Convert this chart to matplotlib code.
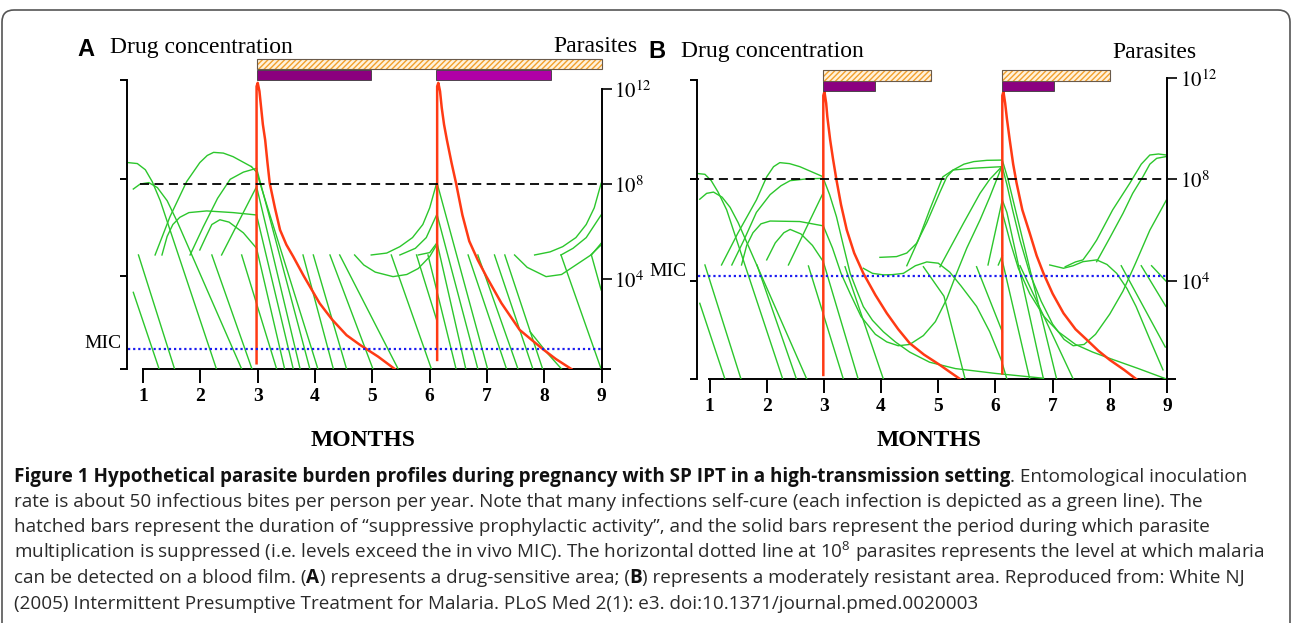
import matplotlib
matplotlib.use("Agg")
import matplotlib.pyplot as plt
from matplotlib.patches import Rectangle, FancyBboxPatch

W, H = 1293, 623
SERIF = "Liberation Serif"
CAP = "Open Sans"
GREEN = "#2cc62c"
RED = "#ff3a14"

plt.rcParams["mathtext.fontset"] = "stix"
plt.rcParams["hatch.linewidth"] = 1.0

months = [1, 2, 3, 4, 5, 6, 7, 8, 9]

# ---------------- panel A: drug-sensitive area (x = months, y = log10 parasites)
a_xlim = (0.72, 8.99)
a_ylim = (0.23, 12.37)
a_left_ticks = [0.23, 4.15, 8.21, 12.37]
a_right_ticks = [4, 8, 12]
a_detect = 8.0
a_mic = 1.07
a_hatch = [(2.98, 9.0)]
a_solid = [(2.98, 4.97), (6.11, 8.11)]
a_solid_colors = ["#8b007e", "#b000a6"]

a_red = [
    [(2.98, 0.47), (2.98, 12.1), (3.0, 12.25), (3.03, 11.9), (3.06, 11.2), (3.09, 10.5), (3.13, 9.85),
     (3.17, 8.9), (3.21, 8.03), (3.3, 7.0), (3.39, 6.07), (3.5, 5.45), (3.62, 4.95), (3.8, 4.15),
     (4.08, 2.99), (4.3, 2.3), (4.55, 1.65), (4.78, 1.25), (5.1, 0.75), (5.39, 0.23)],
    [(6.13, 0.61), (6.13, 12.1), (6.15, 12.25), (6.18, 11.9), (6.21, 11.2), (6.25, 10.5), (6.3, 9.85),
     (6.38, 8.9), (6.46, 8.03), (6.57, 6.7), (6.69, 5.6), (6.84, 4.8), (6.99, 4.11), (7.25, 3.0),
     (7.57, 1.87), (7.97, 1.07), (8.2, 0.65), (8.47, 0.23)],
]

a_green = [
    [(0.74, 8.90), (0.9, 8.86), (1.04, 8.6), (1.16, 8.1), (1.3, 7.3), (2.28, 0.23)],
    [(0.83, 7.79), (0.95, 8.0), (1.1, 8.06), (1.25, 7.85), (1.42, 7.3), (1.6, 6.4), (2.72, 0.23)],
    [(0.83, 3.45), (1.28, 0.23)],
    [(0.92, 5.02), (1.55, 0.23)],
    [(1.21, 5.02), (1.47, 6.63), (1.76, 8.10), (1.99, 8.90), (2.12, 9.2), (2.23, 9.33), (2.4, 9.3),
     (2.57, 9.15), (2.89, 8.73)],
    [(1.33, 5.02), (1.42, 5.8), (1.52, 6.3), (1.64, 6.6), (1.8, 6.8), (2.11, 6.87), (2.57, 6.80), (2.98, 6.70)],
    [(1.82, 5.02), (2.05, 6.2), (2.3, 7.4), (2.52, 8.2), (2.75, 8.5), (2.98, 8.66)],
    [(1.99, 5.23), (2.1, 5.8), (2.2, 6.3), (2.34, 6.5), (2.5, 6.4), (2.75, 5.95), (2.98, 5.30)],
    [(2.37, 5.02), (2.98, 7.89)],
    [(2.20, 5.02), (2.90, 0.23)],
    [(2.72, 5.02), (3.33, 0.23)],
    [(2.98, 5.30), (3.47, 0.23)],
    [(2.98, 6.70), (3.62, 0.23)],
    [(2.98, 7.89), (3.74, 0.23)],
    [(2.98, 8.66), (3.91, 0.23)],
    [(2.89, 8.73), (2.98, 8.5), (4.05, 0.23)],
    [(3.79, 5.02), (4.32, 0.23)],
    [(3.97, 5.02), (4.55, 0.23)],
    [(4.26, 5.02), (5.01, 0.23)],
    [(4.43, 5.02), (5.45, 0.23)],
    [(4.69, 5.02), (4.85, 4.6), (5.05, 4.3), (5.36, 4.11), (5.6, 4.2), (5.8, 4.45), (6.0, 4.95), (6.12, 5.44)],
    [(4.98, 5.02), (5.25, 5.1), (5.48, 5.37), (5.7, 5.75), (5.88, 6.3), (6.0, 7.0), (6.12, 8.03)],
    [(5.48, 5.02), (5.75, 5.3), (5.94, 5.75), (6.12, 6.70)],
    [(5.80, 5.02), (6.0, 5.12), (6.12, 5.51)],
    [(5.33, 5.02), (6.03, 0.23)],
    [(5.77, 5.02), (6.13, 2.22)],
    [(5.97, 5.02), (6.46, 0.23)],
    [(6.13, 5.51), (6.63, 0.23)],
    [(6.13, 6.70), (6.84, 0.23)],
    [(6.13, 8.03), (7.01, 0.23)],
    [(6.67, 5.02), (7.34, 0.23)],
    [(6.84, 5.02), (7.54, 0.23)],
    [(7.13, 5.02), (7.80, 0.23)],
    [(7.31, 5.02), (7.97, 0.23)],
    [(7.75, 1.8), (8.05, 0.9), (8.3, 0.23)],
    [(7.48, 5.02), (7.7, 4.5), (8.03, 4.11), (8.3, 4.2), (8.55, 4.6), (8.8, 5.0), (8.99, 5.44)],
    [(7.83, 5.02), (8.1, 5.15), (8.32, 5.37), (8.55, 5.75), (8.73, 6.3), (8.87, 7.0), (8.99, 8.03)],
    [(8.29, 5.02), (8.5, 5.3), (8.73, 5.75), (8.99, 6.70)],
    [(8.82, 5.02), (8.99, 5.51)],
    [(8.29, 5.02), (8.99, 0.23)],
    [(8.82, 5.02), (8.99, 3.55)],
]

# ---------------- panel B: moderately resistant area
b_xlim = (0.776, 9.0)
b_ylim = (0.14, 12.0)
b_left_ticks = [0.14, 4.0, 8.0, 11.91]
b_right_ticks = [4, 8, 12]
b_detect = 8.0
b_mic = 4.21
b_hatch = [(2.98, 4.87), (6.12, 8.01)]
b_solid = [(2.98, 3.89), (6.12, 7.03)]
b_solid_colors = ["#8b0080", "#8b0080"]

b_red = [
    [(2.99, 0.30), (2.99, 11.3), (3.01, 11.45), (3.04, 11.0), (3.06, 10.47), (3.11, 9.55), (3.16, 8.8),
     (3.22, 7.98), (3.3, 7.0), (3.4, 6.01), (3.53, 5.1), (3.69, 4.30), (3.9, 3.45), (4.10, 2.73),
     (4.3, 2.1), (4.50, 1.55), (4.75, 1.1), (5.03, 0.69), (5.2, 0.42), (5.38, 0.14)],
    [(6.12, 0.36), (6.12, 11.3), (6.14, 11.45), (6.17, 11.0), (6.2, 10.4), (6.25, 9.55), (6.31, 8.6),
     (6.37, 7.85), (6.47, 6.8), (6.6, 5.88), (6.72, 5.0), (6.84, 4.3), (7.0, 3.5), (7.19, 2.73),
     (7.4, 2.1), (7.6, 1.68), (7.8, 1.25), (8.0, 0.89), (8.25, 0.5), (8.46, 0.14)],
]

b_green = [
    [(0.75, 8.24), (0.92, 8.20), (1.03, 7.95), (1.15, 7.5), (1.3, 6.8), (2.28, 0.14)],
    [(0.83, 7.22), (0.95, 7.45), (1.07, 7.5), (1.22, 7.3), (1.36, 6.9), (1.5, 6.3), (2.70, 0.14)],
    [(0.83, 3.12), (1.27, 0.14)],
    [(0.92, 4.63), (1.55, 0.14)],
    [(1.83, 4.63), (2.52, 0.14)],
    [(2.73, 4.59), (3.34, 0.14)],
    [(1.21, 4.63), (1.5, 5.9), (1.82, 7.19), (2.0, 8.1), (2.12, 8.5), (2.23, 8.66), (2.4, 8.62),
     (2.58, 8.5), (2.96, 8.13)],
    [(1.39, 4.63), (1.6, 5.6), (1.82, 6.7), (2.06, 7.4), (2.25, 7.75), (2.41, 7.95), (2.7, 8.02), (2.99, 8.04)],
    [(1.56, 4.63), (1.65, 5.4), (1.76, 5.9), (1.9, 6.25), (2.06, 6.36), (2.58, 6.34), (2.99, 6.17)],
    [(2.0, 4.83), (2.15, 5.5), (2.3, 5.9), (2.41, 6.03), (2.6, 5.85), (2.8, 5.4), (2.99, 4.76)],
    [(2.38, 4.63), (2.99, 7.48)],
    [(2.99, 4.76), (3.60, 0.14)],
    [(3.37, 4.56), (4.04, 0.14)],
    [(2.99, 6.17), (3.15, 5.3), (3.3, 4.3), (3.46, 3.5), (3.65, 2.6), (3.9, 1.9), (4.1, 1.6), (4.3, 1.45),
     (4.5, 1.5), (4.74, 1.85), (4.95, 2.4), (5.15, 3.3), (5.32, 4.3), (5.5, 5.3), (5.73, 6.4), (5.9, 7.3),
     (6.11, 8.5)],
    [(2.99, 8.04), (3.1, 7.4), (3.22, 6.53), (3.34, 5.4), (3.46, 4.3), (3.58, 3.6), (3.69, 2.99),
     (3.85, 2.45), (4.04, 2.0), (4.25, 1.6), (4.5, 1.2), (4.85, 0.8), (5.3, 0.55), (6.0, 0.36), (6.84, 0.17)],
    [(3.69, 4.5), (3.85, 4.3), (4.04, 4.24), (4.2, 4.25), (4.39, 4.3), (4.6, 4.6), (4.8, 4.75), (5.0, 4.7),
     (5.2, 4.35), (5.4, 3.8), (5.67, 3.0), (5.9, 2.0), (6.1, 0.9), (6.2, 0.14)],
    [(3.98, 4.93), (4.27, 4.96), (4.45, 5.1), (4.62, 5.48), (4.8, 6.3), (5.03, 7.5), (5.15, 8.1), (5.26, 8.37),
     (5.45, 8.6), (5.62, 8.7), (5.85, 8.75), (6.11, 8.76)],
    [(4.45, 4.6), (4.65, 5.6), (4.85, 6.8), (5.08, 8.1), (5.26, 8.37), (5.61, 8.44), (6.11, 8.5)],
    [(5.03, 4.56), (5.44, 6.27), (5.73, 7.45), (5.9, 8.0), (6.11, 8.5)],
    [(4.74, 4.56), (5.1, 3.4), (5.47, 0.14)],
    [(5.87, 4.63), (6.12, 7.19)],
    [(6.05, 4.63), (6.12, 5.0)],
    [(5.67, 4.56), (6.12, 2.0)],
    [(6.12, 8.5), (6.2, 7.8), (6.3, 6.8), (6.43, 5.6), (6.6, 4.3), (6.8, 3.2), (7.0, 2.3), (7.2, 1.7),
     (7.36, 1.45), (7.55, 1.5), (7.75, 1.9), (8.0, 2.7), (8.23, 3.6), (8.45, 4.7), (8.7, 6.0), (8.99, 7.19)],
    [(6.12, 6.7), (6.25, 5.6), (6.4, 4.5), (6.6, 3.5), (6.85, 2.6), (7.1, 2.0), (7.4, 1.5), (7.7, 1.2),
     (8.0, 0.95), (8.5, 0.55), (8.99, 0.14)],
    [(6.12, 4.8), (6.6, 0.14)],
    [(6.12, 7.19), (6.2, 6.7), (6.84, 0.14)],
    [(6.12, 8.76), (6.22, 8.0), (7.07, 0.14)],
    [(6.43, 4.6), (7.36, 0.14)],
    [(6.95, 4.63), (7.19, 4.5), (7.36, 4.6), (7.53, 4.76), (7.77, 4.83), (7.95, 4.65), (8.12, 4.3),
     (8.3, 3.7), (8.46, 2.99), (8.7, 1.7), (8.93, 0.5)],
    [(7.22, 4.56), (7.4, 4.75), (7.53, 4.83), (7.65, 5.2), (7.77, 5.61), (8.05, 6.8), (8.35, 7.85),
     (8.55, 8.6), (8.7, 8.96), (8.85, 9.0), (8.99, 8.96)],
    [(7.77, 4.76), (8.0, 5.7), (8.23, 6.66), (8.4, 7.45), (8.58, 8.11), (8.7, 8.6), (8.82, 8.83), (8.99, 8.90)],
    [(8.2, 4.6), (8.97, 1.4)],
    [(8.55, 4.6), (8.98, 3.0)],
    [(8.73, 4.6), (8.98, 4.0)],
]

caption_lines = [
    [("Figure 1 Hypothetical parasite burden profiles during pregnancy with SP IPT in a high-transmission setting", "bold"),
     (". Entomological inoculation", "normal")],
    [("rate is about 50 infectious bites per person per year. Note that many infections self-cure "
      "(each infection is depicted as a green line). The", "normal")],
    [("hatched bars represent the duration of \u201csuppressive prophylactic activity\u201d, and the solid "
      "bars represent the period during which parasite", "normal")],
    [("multiplication is suppressed (i.e. levels exceed the in vivo MIC). The horizontal dotted line at "
      "10$^{\\mathregular{8}}$ parasites represents the level at which malaria", "normal")],
    [("can be detected on a blood film. (", "normal"), ("A", "bold"),
     (") represents a drug-sensitive area; (", "normal"), ("B", "bold"),
     (") represents a moderately resistant area. Reproduced from: White NJ", "normal")],
    [("(2005) Intermittent Presumptive Treatment for Malaria. PLoS Med 2(1): e3. doi:10.1371/journal.pmed.0020003",
      "normal")],
]
caption_baselines = [482, 507, 532, 558, 583, 609]


def fx(px):
    return px / W


def fy(py):
    return 1 - py / H


fig = plt.figure(figsize=(W / 100, H / 100), dpi=100)
fig.patch.set_facecolor("white")

box = FancyBboxPatch((0.14, -0.4), 12.64, 6.41, boxstyle="round,pad=0.12",
                     transform=fig.dpi_scale_trans, fill=False, ec="#555555", lw=1.2)
fig.add_artist(box)


def draw_panel(ax, xlim, ylim, left_ticks, right_ticks, detect, mic, dash_x0,
               green, red, hatch, solid, solid_colors, hatch_y, solid_y):
    ax.set_xlim(xlim)
    ax.set_ylim(ylim)
    ax.patch.set_alpha(0)
    for s in ("top", "bottom", "right"):
        ax.spines[s].set_visible(False)
    ax.spines["left"].set_linewidth(1.4)
    ax.spines["left"].set_bounds(ylim[0], left_ticks[-1])
    ax.set_yticks(left_ticks)
    ax.set_yticklabels([])
    ax.tick_params(axis="y", direction="out", length=5, width=1.4)
    ax.set_xticks(months)
    ax.set_xticklabels([str(m) for m in months], fontfamily=SERIF, fontweight="bold", fontsize=14)
    ax.tick_params(axis="x", direction="out", length=10, width=1.4, pad=4)
    ax.plot([0.98, 9.16], [ylim[0], ylim[0]], color="k", lw=1.4, clip_on=False, solid_capstyle="butt")

    axr = ax.twinx()
    axr.set_ylim(ylim)
    for s in ("top", "bottom", "left"):
        axr.spines[s].set_visible(False)
    axr.spines["right"].set_bounds(ylim[0], 12)
    axr.spines["right"].set_linewidth(1.4)
    axr.set_yticks(right_ticks)
    axr.set_yticklabels([f"$10^{{{t}}}$" for t in right_ticks], fontsize=15)
    axr.tick_params(axis="y", direction="out", length=7, width=1.2, pad=2)

    for line in green:
        xs, ys = zip(*line)
        ax.plot(xs, ys, color=GREEN, lw=1.0, solid_joinstyle="round", zorder=2)
    for line in red:
        xs, ys = zip(*line)
        ax.plot(xs, ys, color=RED, lw=1.8, solid_joinstyle="round", zorder=3)

    ax.plot([dash_x0, xlim[1]], [detect, detect], color="k", lw=1.3, ls=(0, (5, 3)), clip_on=False, zorder=4)
    ax.plot([xlim[0] + 0.02, xlim[1]], [mic, mic], color="#1c1cf0", lw=1.6, ls=(0, (1, 1.3)),
            clip_on=False, zorder=4)

    for x0, x1 in hatch:
        ax.add_patch(Rectangle((x0, hatch_y[0]), x1 - x0, hatch_y[1] - hatch_y[0], facecolor="#fff2dc",
                               edgecolor="#f2a02c", hatch="//////", lw=0, clip_on=False, zorder=5))
        ax.add_patch(Rectangle((x0, hatch_y[0]), x1 - x0, hatch_y[1] - hatch_y[0], fill=False,
                               edgecolor="#6a5a4a", lw=0.8, clip_on=False, zorder=6))
    for (x0, x1), c in zip(solid, solid_colors):
        ax.add_patch(Rectangle((x0, solid_y[0]), x1 - x0, solid_y[1] - solid_y[0], facecolor=c,
                               edgecolor="#3a3a3a", lw=0.6, clip_on=False, zorder=5))


axA = fig.add_axes([fx(127), fy(369), (601.7 - 127) / W, (369 - 80) / H])
draw_panel(axA, a_xlim, a_ylim, a_left_ticks, a_right_ticks, a_detect, a_mic, 0.95,
           a_green, a_red, a_hatch, a_solid, a_solid_colors, (12.83, 13.25), (12.37, 12.79))

axB = fig.add_axes([fx(696.7), fy(379), (1167 - 696.7) / W, (379 - 77.8) / H])
draw_panel(axB, b_xlim, b_ylim, b_left_ticks, b_right_ticks, b_detect, b_mic, 0.66,
           b_green, b_red, b_hatch, b_solid, b_solid_colors, (11.87, 12.31), (11.48, 11.87))

# panel headings
for px, py, letter in [(77, 49, "A"), (648, 52, "B")]:
    fig.text(fx(px), fy(py), letter, fontfamily="Liberation Sans", fontweight="bold", fontsize=17, va="center")
fig.text(fx(110), fy(47), "Drug concentration", fontfamily=SERIF, fontsize=17, va="center")
fig.text(fx(681), fy(52), "Drug concentration", fontfamily=SERIF, fontsize=17, va="center")
fig.text(fx(637), fy(47), "Parasites", fontfamily=SERIF, fontsize=17, va="center", ha="right")
fig.text(fx(1196), fy(52), "Parasites", fontfamily=SERIF, fontsize=17, va="center", ha="right")
fig.text(fx(122), fy(344), "MIC", fontfamily=SERIF, fontsize=14, va="center", ha="right")
fig.text(fx(687), fy(271), "MIC", fontfamily=SERIF, fontsize=14, va="center", ha="right")
fig.text(fx(363), fy(440), "MONTHS", fontfamily=SERIF, fontweight="bold", fontsize=17, va="center", ha="center")
fig.text(fx(929), fy(440), "MONTHS", fontfamily=SERIF, fontweight="bold", fontsize=17, va="center", ha="center")

# caption, font size fitted to the width of its second line (about 1185 px)
renderer = fig.canvas.get_renderer()
probe = fig.text(0, 0, caption_lines[1][0][0], fontfamily=CAP, fontsize=10)
cap_size = 10 * 1185 / probe.get_window_extent(renderer).width
probe.remove()

for segs, base in zip(caption_lines, caption_baselines):
    x = 14
    for txt, weight in segs:
        t = fig.text(fx(x), fy(base), txt, fontfamily=CAP, fontweight=weight, fontsize=cap_size,
                     va="baseline", color="#2a2a2a" if weight == "normal" else "#111111")
        x += t.get_window_extent(renderer).width

fig.savefig("out.png", dpi=100)
